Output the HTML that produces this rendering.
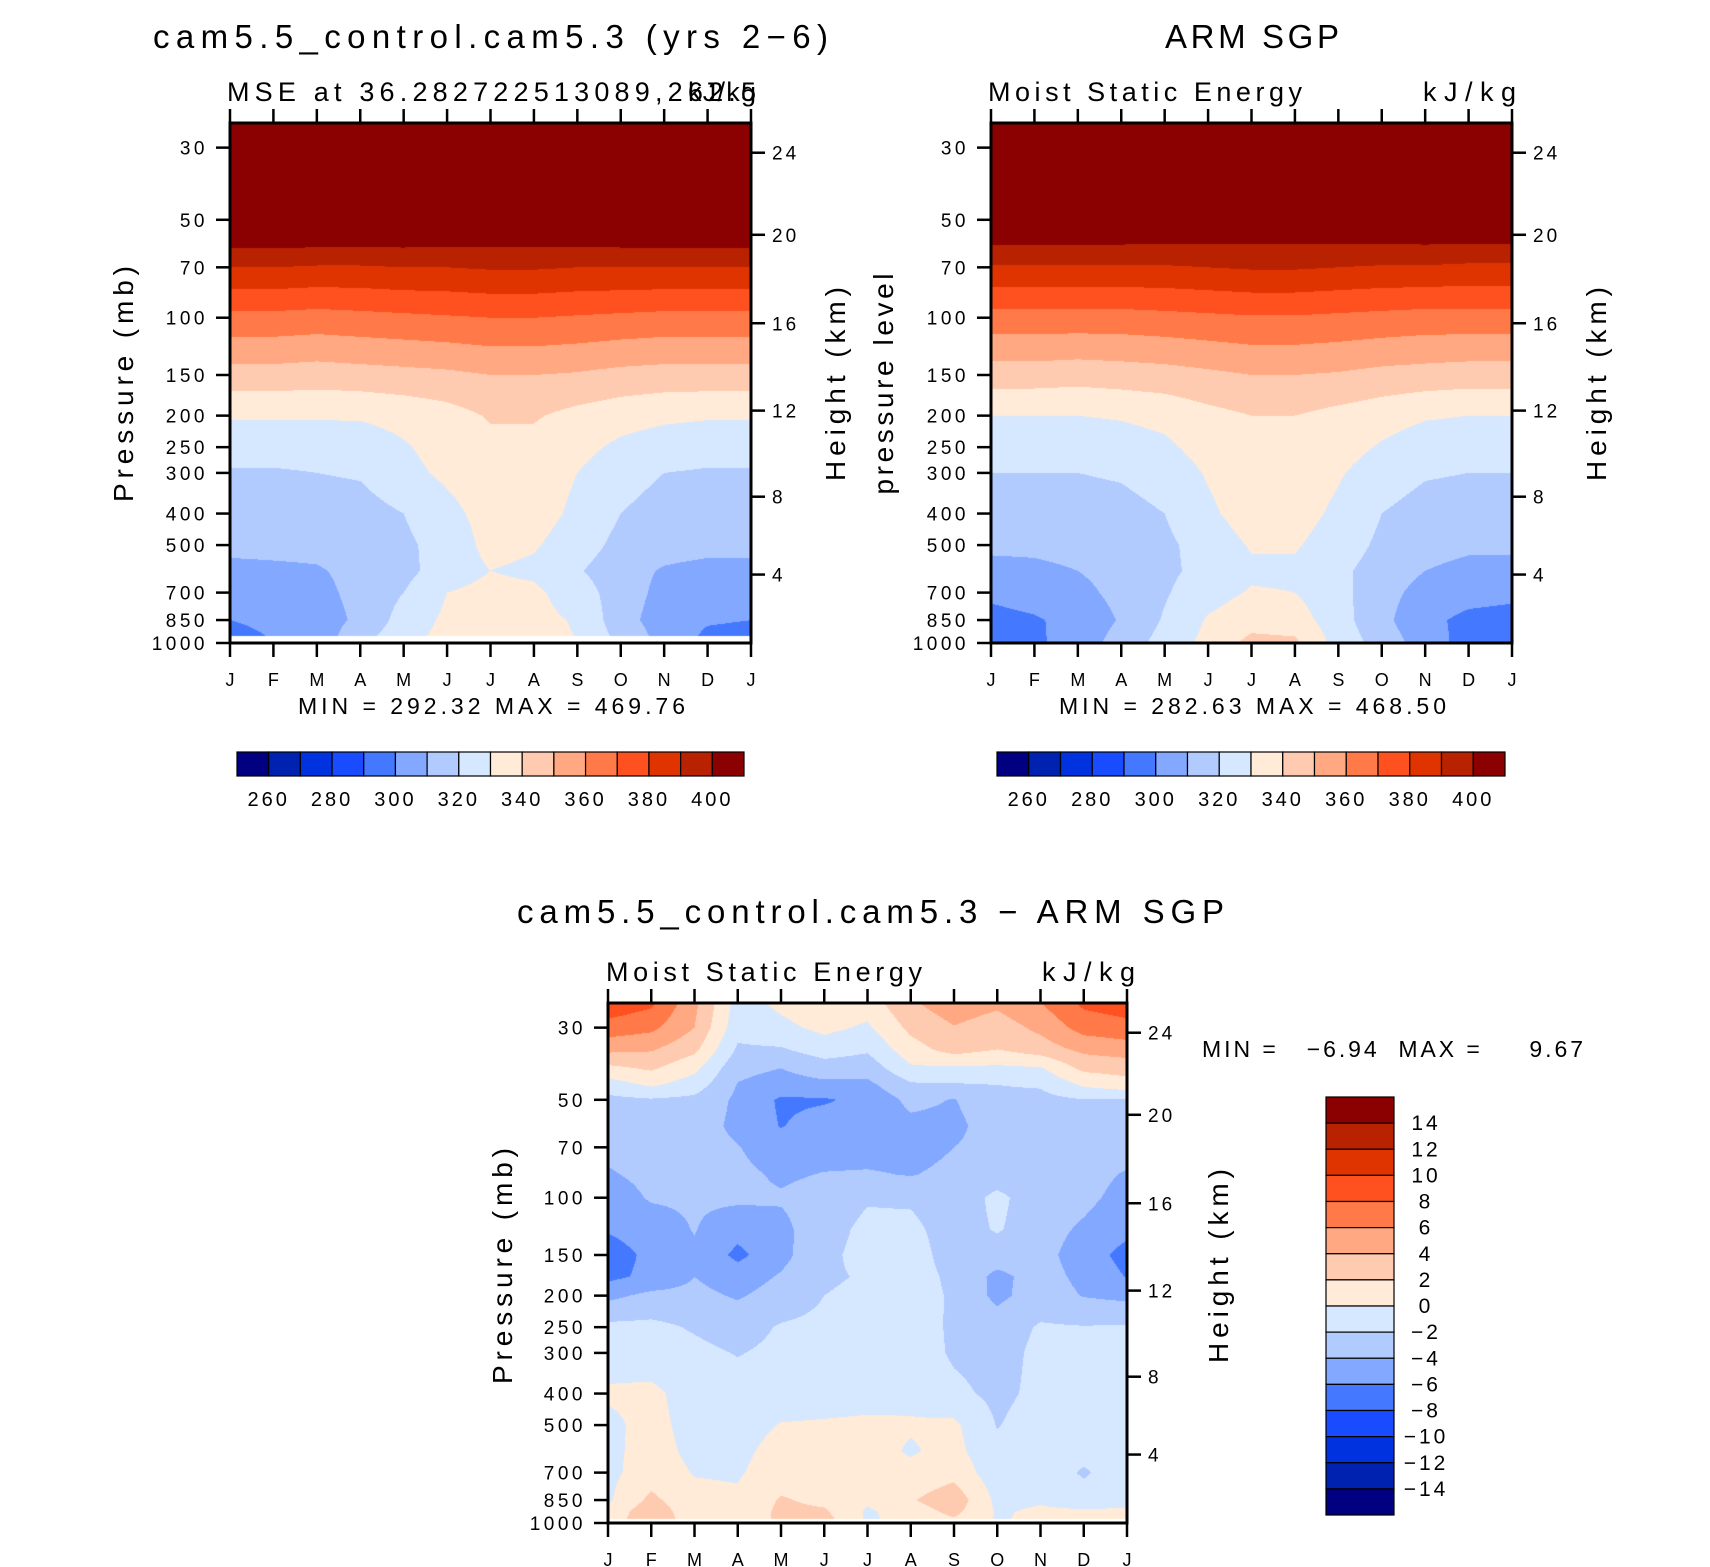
<!DOCTYPE html>
<html><head><meta charset="utf-8">
<style>
body{margin:0;background:#fff;width:1710px;height:1567px;position:relative;overflow:hidden;font-family:"Liberation Sans",Arial,sans-serif}
canvas{position:absolute}
svg{position:absolute;left:0;top:0}
text{font-family:"Liberation Sans",Arial,sans-serif;fill:#000}
</style></head>
<body>
<canvas id="c1" width="521" height="520" style="left:230px;top:123px"></canvas>
<canvas id="c2" width="521" height="520" style="left:991px;top:123px"></canvas>
<canvas id="c3" width="519" height="520" style="left:608px;top:1003px"></canvas>
<svg id="ov" width="1710" height="1567"></svg>
<script>
const palette=["#000080","#0022B0","#0032E0","#1A4CFF","#4479FF","#82A8FF","#B2CBFF","#D6E8FF","#FFEBD8","#FFCBB0","#FFA882","#FF7A48","#FF5020","#E03400","#B82200","#8B0000"];
const months=["J","F","M","A","M","J","J","A","S","O","N","D","J"];
const pressTicks=[1000,850,700,500,400,300,250,200,150,100,70,50,30];
const heightLabels=[4,8,12,16,20,24];
const heightTickPress=[616,355,193,104,55.6,31.1];
const mseLabels=[260,280,300,320,340,360,380,400];
const diffLabels=[14,12,10,8,6,4,2,0,-2,-4,-6,-8,-10,-12,-14];
const topLevels=[1000,850,700,600,500,400,300,250,200,150,100,70,50,30,25];
const modelRows=[
[296,300,304,318,327,334,335,334,330,318,307,297,296],
[300,302,305,312,324,332,334,333,329,314,305,301,300],
[303,305,307,313,320,330,333,332,325,315,307,304,303],
[307,308,309,313,317,325,330,328,321,314,309,307,307],
[313,313,313,315,318,324,333,331,325,317,314,313,313],
[314,314,315,316,320,327,334,334,328,320,316,314,314],
[319,319,320,321,327,332,336,335,330,324,320,319,319],
[324,324,324,325,329,334,337,337,333,328,325,324,324],
[331,331,331,331,333,336,341,341,337,334,332,331,331],
[346,346,345,346,347,348,350,350,349,347,346,346,346],
[367,367,366,367,368,369,370,370,369,368,367,367,367],
[390,390,389,389,390,390,391,391,390,390,390,390,390],
[415,415,415,415,414,413,412,412,413,414,415,415,415],
[440,440,440,440,440,440,440,440,440,440,440,440,440],
[450,450,450,450,450,450,450,450,450,450,450,450,450]];
const obsRows=[
[294,298,305,314,324,333,343,342,326,316,305,296,294],
[297,299,303,311,321,331,336,335,324,313,302,298,297],
[302,304,307,313,319,326,331,330,323,314,306,303,302],
[307,308,310,314,318,323,328,328,322,316,310,307,307],
[312,312,313,315,318,324,331,331,325,318,314,312,312],
[315,315,316,317,320,328,335,334,328,320,316,315,315],
[320,320,320,321,324,331,337,336,331,325,321,320,320],
[324,324,324,325,328,334,338,338,334,329,325,324,324],
[330,330,330,331,333,337,340,340,337,334,331,330,330],
[345,345,344,345,346,348,350,350,349,347,346,345,345],
[366,366,366,366,367,368,369,369,368,367,366,366,366],
[389,389,389,389,389,390,391,391,390,389,389,388,388],
[412,412,412,412,411,410,409,409,410,411,412,412,412],
[440,440,440,440,440,440,440,440,440,440,440,440,440],
[450,450,450,450,450,450,450,450,450,450,450,450,450]];
const diffLevels=[25,30,35,40,45,50,60,70,85,100,125,150,175,200,250,300,400,500,600,700,850,925,1000];
const diffCols=[
[9.5,7.2,4.5,1.5,-1,-2.5,-3,-3.5,-4.2,-5,-5.8,-7,-6.5,-4.5,-1.5,-1,0.3,-0.5,-0.5,-0.5,-0.3,0.5,0.5],
[8.5,6.5,4.2,2.3,0.3,-2.2,-3,-3.3,-3.5,-3.8,-5,-5.5,-5.5,-3.5,-1.5,-1.2,0.5,0.7,0.8,1,2.5,3.5,4.2],
[4.5,4,2.5,0.5,-1,-2.5,-3,-3.2,-3.5,-3.7,-3.9,-4.3,-4,-3.5,-2.2,-1.5,-1,-0.8,-0.5,-0.1,0.5,0.5,0.5],
[-0.8,-1.3,-2.3,-3.5,-4.1,-4.4,-4.5,-3.9,-3.5,-3.6,-5.3,-6.5,-5,-4.2,-2.9,-2.1,-1.2,-0.8,-0.5,-0.2,0.3,0.3,0.3],
[0.5,-0.5,-2.2,-4,-4.8,-6.3,-6.1,-5.2,-4.3,-3.8,-4.5,-4.6,-3.8,-3.2,-1.8,-1.5,-1,0.1,0.7,1,2.2,2.5,2.5],
[1.5,0.5,-1,-3,-4.5,-6.2,-5.2,-4.8,-3.9,-3.2,-2.8,-2.5,-2.3,-2,-1.5,-1.2,-0.8,0.2,0.7,0.8,1.5,2.3,3],
[1,-0.3,-1.7,-3.2,-4.5,-5.5,-5,-4.8,-3.8,-2.2,-1.5,-1.3,-1.8,-1.5,-1,-0.9,-0.6,0.3,0.7,0.8,0.3,-0.3,-0.3],
[3.8,2.5,1.2,-0.3,-2.3,-3.5,-4.5,-4.8,-4.1,-2.3,-1.5,-1,-1,-1,-0.8,-0.8,-0.5,0.2,-0.2,0.5,1.8,1,0.5],
[5.2,3.9,2.8,-0.3,-2.2,-4.1,-4.5,-4,-3.5,-3.2,-3,-3,-2.5,-2.3,-2.4,-2.3,-1.5,0.4,0.6,1.3,3.3,2.5,1.5],
[4.5,3,2,-0.4,-2,-2.5,-3,-3.3,-3,-1.5,-1.8,-3,-4.5,-4.5,-3,-2.8,-2.5,-2.1,-1.5,-1.2,-0.5,-0.2,-0.2],
[6,4.5,3,-0.2,-1.8,-2.6,-3,-3.3,-3.3,-3.2,-3.2,-3.3,-3.2,-3,-1.8,-1.5,-1.5,-1,-0.8,-0.5,-0.2,0.3,0.5],
[8.5,6.8,4.5,2.5,0.3,-2.1,-2.8,-3,-3.3,-3.5,-4.3,-5,-4.5,-4.1,-1.9,-1.2,-1,-0.8,-1.2,-2.3,-1,0.3,0.5],
[9.2,7.3,5,2.8,1.2,-2.3,-3,-3.2,-4.2,-4.7,-5.5,-6.7,-6.1,-4.5,-1.8,-1.2,-1,-0.8,-0.7,-0.6,-0.5,0.3,0.3]];

const PTOP=25.2, LNR=Math.log(1000/PTOP);
function yOfP(p,top,h){return top+h-h*Math.log(1000/p)/LNR;}

function fillPanel(id,levels,valAt,lo,step,pBottom){
  const cv=document.getElementById(id),ctx=cv.getContext('2d');
  const W=cv.width,H=cv.height,img=ctx.createImageData(W,H);
  const lnl=levels.map(p=>Math.log(p));
  const rgb=palette.map(c=>[parseInt(c.slice(1,3),16),parseInt(c.slice(3,5),16),parseInt(c.slice(5,7),16)]);
  for(let y=0;y<H;y++){
    const lnp=Math.log(1000)-(H-(y+0.5))*LNR/H;
    const p=Math.exp(lnp);
    let k=0;
    if(lnl[0]>lnl[lnl.length-1]){while(k<lnl.length-2&&lnp<lnl[k+1])k++;}
    else{while(k<lnl.length-2&&lnp>lnl[k+1])k++;}
    let t=(lnp-lnl[k])/(lnl[k+1]-lnl[k]);t=Math.max(0,Math.min(1,t));
    for(let x=0;x<W;x++){
      const o=(y*W+x)*4;
      if(p>pBottom){img.data[o]=255;img.data[o+1]=255;img.data[o+2]=255;img.data[o+3]=255;continue;}
      const fx=(x+0.5)/W*12;let i=Math.min(11,Math.floor(fx));const u=fx-i;
      const v00=valAt(k,i),v01=valAt(k,i+1),v10=valAt(k+1,i),v11=valAt(k+1,i+1);
      const v=(v00*(1-u)+v01*u)*(1-t)+(v10*(1-u)+v11*u)*t;
      let ci=Math.floor((v-lo)/step)+1;ci=Math.max(0,Math.min(15,ci));
      const c=rgb[ci];img.data[o]=c[0];img.data[o+1]=c[1];img.data[o+2]=c[2];img.data[o+3]=255;
    }
  }
  ctx.putImageData(img,0,0);
}
fillPanel('c1',topLevels,(r,c)=>modelRows[r][c],260,10,952);
fillPanel('c2',topLevels,(r,c)=>obsRows[r][c],260,10,1001);
fillPanel('c3',diffLevels,(r,c)=>diffCols[c][r],-14,2,970);

const NS="http://www.w3.org/2000/svg",svg=document.getElementById('ov');
function el(tag,attrs,parent){const e=document.createElementNS(NS,tag);for(const k in attrs)e.setAttribute(k,attrs[k]);(parent||svg).appendChild(e);return e;}
function txt(s,x,y,size,anchor,parent,rot,len,ls){const e=el('text',{x:x,y:y,'font-size':size,'text-anchor':anchor||'start'},parent);
  if(rot)e.setAttribute('transform','rotate(-90 '+x+' '+y+')');
  if(len){e.setAttribute('textLength',len);e.setAttribute('lengthAdjust','spacing');}
  if(ls)e.setAttribute('letter-spacing',ls);
  e.textContent=s;return e;}

function axes(L,T,W,H,name){
  const g=el('g',{});
  
  
  const tk=14;
  months.forEach((m,i)=>{
    const x=L+i*W/12;
    el('line',{x1:x,y1:T+H,x2:x,y2:T+H+tk,stroke:'#000','stroke-width':2.5},g);
    el('line',{x1:x,y1:T,x2:x,y2:T-tk,stroke:'#000','stroke-width':2.5},g);
    const t=txt(m,x,T+H+43,18,'middle',g);
    
    
  });
  pressTicks.forEach(p=>{
    const y=yOfP(p,T,H);
    el('line',{x1:L-tk,y1:y,x2:L,y2:y,stroke:'#000','stroke-width':2.5},g);
    const t=txt(String(p),L-22,y+7,19,'end',g,false,null,'3.5');
    
    
  });
  heightLabels.forEach((h,i)=>{
    const y=yOfP(heightTickPress[i],T,H);
    el('line',{x1:L+W,y1:y,x2:L+W+tk,y2:y,stroke:'#000','stroke-width':2.5},g);
    const t=txt(String(h),L+W+21,y+7,19,'start',g,false,null,'3');
    
    
  });
  el('rect',{x:L,y:T,width:W,height:H,fill:'none',stroke:'#000','stroke-width':3},g);
}
axes(230,123,521,520,'model');
axes(991,123,521,520,'obs');
axes(608,1003,519,520,'diff');

function hbar(L,T,W,H,name){
  const g=el('g',{});
  
  
  const bw=W/16;
  palette.forEach((c,i)=>{
    const r=el('rect',{x:L+i*bw,y:T,width:bw,height:H,fill:c,stroke:'#000','stroke-width':1.2},g);
    
    
  });
  mseLabels.forEach((v,j)=>{
    const b=1+2*j;
    const t=txt(String(v),L+b*bw,T+H+30,20,'middle',g,false,null,'3');
    
    
  });
}
hbar(237,752,507,24,'model-colorbar');
hbar(997,752,508,24,'obs-colorbar');
(function(){
  const L=1326,T=1097,W=68,H=418,bh=H/16;
  const g=el('g',{});
  
  
  palette.slice().reverse().forEach((c,i)=>{
    const r=el('rect',{x:L,y:T+i*bh,width:W,height:bh,fill:c,stroke:'#000','stroke-width':1.2},g);
    
    
  });
  diffLabels.forEach((v,i)=>{
    const t=txt(String(v).replace('-','\u2212'),1426,T+(i+1)*bh+7,21,'middle',g,false,null,'3');
    
    
  });
})();

const labels=[
 ['cam5.5_control.cam5.3 (yrs 2\u22126)',153,48,33,'start','model-title',675],
 ['MSE at 36.282722513089,262.5',227,101,27,'start','model-subtitle',529],
 ['kJ/kg',688,101,27,'start','model-units',68],
 ['ARM SGP',1165,48,33,'start','obs-title',174],
 ['Moist Static Energy',988,101,27,'start','obs-subtitle',314],
 ['kJ/kg',1423,101,27,'start','obs-units',93],
 ['MIN = 292.32 MAX = 469.76',298,714,23,'start','model-min-max',387],
 ['MIN = 282.63 MAX = 468.50',1059,714,23,'start','obs-min-max',387],
 ['cam5.5_control.cam5.3 \u2212 ARM SGP',517,923,33,'start','diff-title',707],
 ['Moist Static Energy',606,981,27,'start','diff-subtitle',316],
 ['kJ/kg',1042,981,27,'start','diff-units',93]
];
labels.forEach(a=>{const t=txt(a[0],a[1],a[2],a[3],a[4],null,false,a[6]);
  
  });
const mm=txt('MIN =   \u22126.94  MAX =     9.67',1202,1057,23,'start',null,false,381);
mm.setAttribute('xml:space','preserve');mm.style.whiteSpace='pre';



const rot=[
 ['Pressure (mb)',133,384,'model-y-axis-title',236],
 ['Height (km)',845,384,'model-right-axis-title',194],
 ['pressure level',893,384,'obs-y-axis-title',221],
 ['Height (km)',1606,384,'obs-right-axis-title',194],
 ['Pressure (mb)',512,1266,'diff-y-axis-title',236],
 ['Height (km)',1228,1266,'diff-right-axis-title',194]
];
rot.forEach(a=>{const t=txt(a[0],a[1],a[2],28,'middle',null,true,a[4]);
  
  });
</script>
</body></html>
